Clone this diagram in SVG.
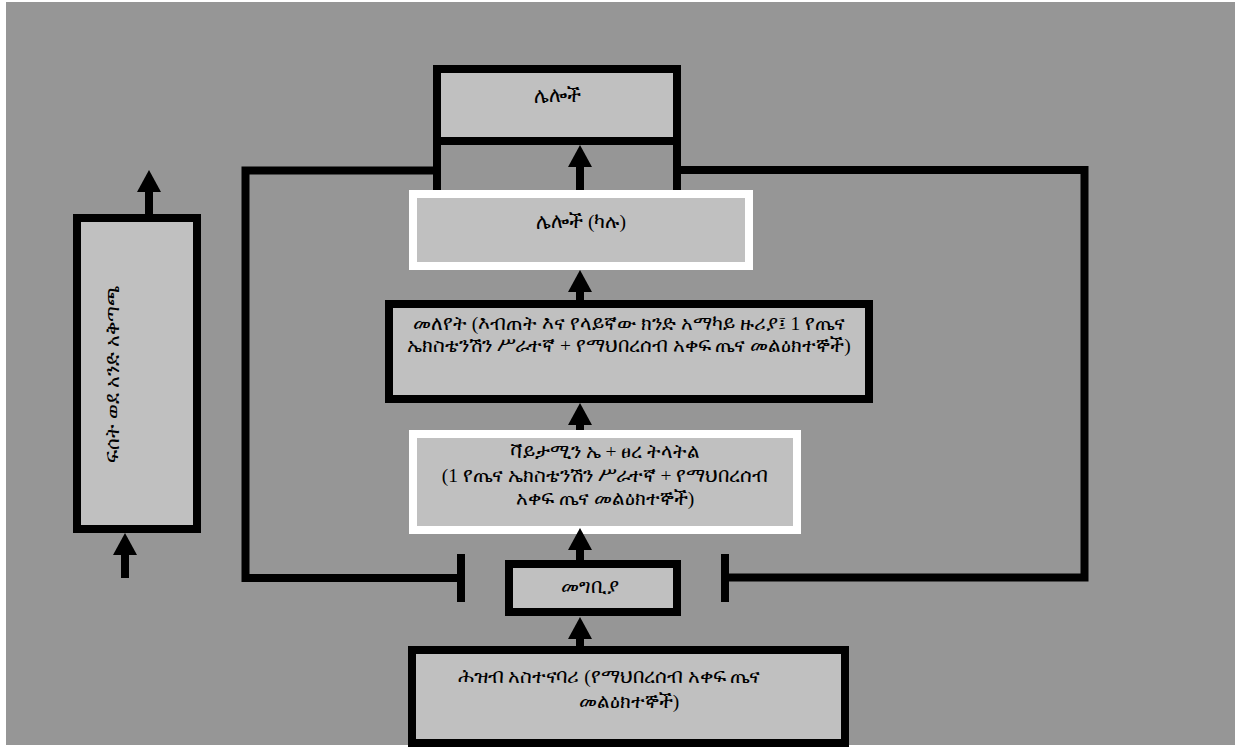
<svg xmlns="http://www.w3.org/2000/svg" width="1235" height="747" viewBox="0 0 1235 747">
<style>
.bg{fill:#969696}
.box{fill:#c0c0c0;stroke:#000;stroke-width:8}
.wbox{fill:#c0c0c0;stroke:#fff;stroke-width:8}
.t{font-family:"Liberation Serif",serif;font-size:19.5px;fill:#000;text-anchor:middle}
.ln{fill:none;stroke:#000;stroke-width:8;stroke-linejoin:miter}
</style>
<defs>
<marker id="ah" viewBox="0 0 22 24" markerWidth="22" markerHeight="24" refX="0" refY="12" orient="auto" markerUnits="userSpaceOnUse">
<path d="M0,0 L22,12 L0,24 Z" fill="#000"/>
</marker>
</defs>
<rect x="0" y="0" width="1235" height="747" fill="#fff"/>
<rect class="bg" x="6" y="2" width="1229" height="743"/>
<g id="node-others">
<rect class="box" x="437" y="69" width="240" height="72"/>
<text class="t" x="557" y="102">ሌሎች</text>
</g>
<g id="node-others-if-any">
<rect class="wbox" x="413" y="194" width="336" height="72"/>
<text class="t" x="581" y="228">ሌሎች (ካሉ)</text>
</g>
<g id="node-identify">
<rect class="box" x="389" y="304" width="480" height="95"/>
<text class="t" x="629" y="330">መለየት (እብጠት እና የላይኛው ክንድ አማካይ ዙሪያ፤ 1 የጤና</text>
<text class="t" x="629" y="352">ኤክስቴንሽን ሥራተኛ + የማህበረሰብ አቀፍ ጤና መልዕክተኞች)</text>
</g>
<g id="node-vitamin">
<rect class="wbox" x="413" y="434" width="384" height="96"/>
<text class="t" x="605" y="458">ቫይታሚን ኤ + ፀረ ትላትል</text>
<text class="t" x="605" y="482">(1 የጤና ኤክስቴንሽን ሥራተኛ + የማህበረሰብ</text>
<text class="t" x="605" y="505">አቀፍ ጤና መልዕክተኞች)</text>
</g>
<g id="node-entry">
<rect class="box" x="509" y="564" width="168" height="48"/>
<text class="t" x="590" y="593">መግቢያ</text>
</g>
<g id="node-mobilizer">
<rect class="box" x="412" y="650" width="433" height="93"/>
<text class="t" x="609" y="683">ሕዝብ አስተናባሪ (የማህበረሰብ አቀፍ ጤና</text>
<text class="t" x="629" y="708">መልዕክተኞች)</text>
</g>
<g id="node-flow">
<rect class="box" x="77" y="218" width="120" height="311"/>
<text class="t" transform="translate(119 374) rotate(-90)">ፍሰት ወደ አንድ አቅጣጫ</text>
</g>
<g id="connectors">
<path class="ln" d="M437,145 V190 M441,170.5 H245.5 V578 H461 M461,554 V602"/>
<path class="ln" d="M677,145 V190 M673,170 H1084.5 V577.5 H725 M725,554 V602"/>
<line class="ln" x1="580" y1="190" x2="580" y2="167" marker-end="url(#ah)"/>
<line class="ln" x1="580" y1="300" x2="580" y2="292" marker-end="url(#ah)"/>
<line class="ln" x1="580" y1="430" x2="580" y2="425" marker-end="url(#ah)"/>
<line class="ln" x1="580" y1="560" x2="580" y2="550" marker-end="url(#ah)"/>
<line class="ln" x1="580" y1="647" x2="580" y2="639" marker-end="url(#ah)"/>
<line class="ln" x1="149" y1="214" x2="149" y2="192" marker-end="url(#ah)"/>
<line class="ln" x1="125" y1="578" x2="125" y2="555" marker-end="url(#ah)"/>
</g>
</svg>
